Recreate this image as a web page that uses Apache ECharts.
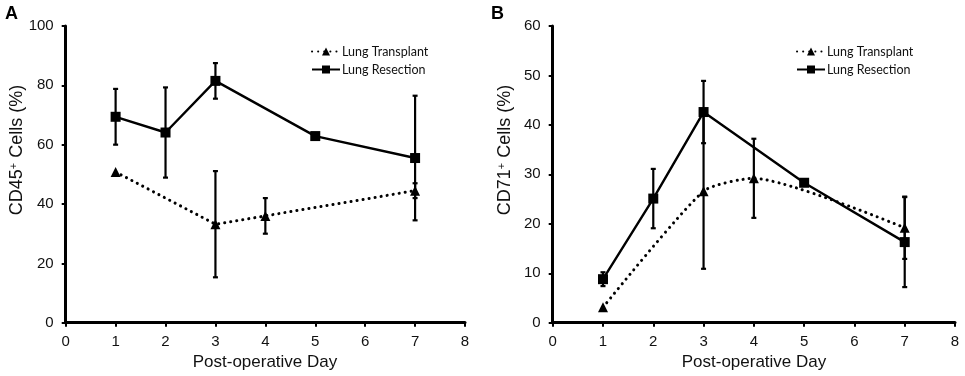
<!DOCTYPE html>
<html>
<head>
<meta charset="utf-8">
<script src="https://cdn.jsdelivr.net/npm/echarts@6/dist/echarts.min.js"></script>
<style>
  html, body { margin: 0; padding: 0; background: #fff; }
  #chart { width: 965px; height: 376px; }
</style>
</head>
<body>
<div id="chart"></div>
<script>
// post-operative days (null = no measurement that day)
const days = [1, 2, 3, 4, 5, 7];

// panel A: CD45+ cells (%)
const transA = [50.8, null, 33.2, 36.0, null, 44.5];
const transAErr = [0, null, 17.9, 6.0, null, 2.5];
const resA = [69.4, 64.1, 81.5, null, 62.9, 55.5];
const resAErr = [9.4, 15.2, 6.0, null, 0, 21.0];

// panel B: CD71+ cells (%)
const transB = [3.1, null, 26.6, 29.2, null, 19.2];
const transBErr = [0, null, 15.7, 8.0, null, 6.3];
const resB = [8.8, 25.1, 42.6, null, 28.3, 16.3];
const resBErr = [1.4, 6.0, 6.3, null, 0, 9.1];

const xTicks = [0, 1, 2, 3, 4, 5, 6, 7, 8];

const pairs = (vals) => days.map((d, i) => [d, vals[i]]).filter((p) => p[1] != null);
const bars = (vals, errs) =>
  days
    .map((d, i) => [d, vals[i], errs[i]])
    .filter((p) => p[1] != null && p[2] > 0)
    .map((p) => [p[0], p[1] - p[2], p[1] + p[2]]);

const labelFont = { color: '#111', fontSize: 15, fontFamily: 'Liberation Sans, Arial' };

const errorBar = (name, data, idx) => ({
  name,
  type: 'custom',
  xAxisIndex: idx,
  yAxisIndex: idx,
  data,
  z: 1,
  renderItem: (params, api) => {
    const lo = api.coord([api.value(0), api.value(1)]);
    const hi = api.coord([api.value(0), api.value(2)]);
    const w = 2.5;
    const style = { stroke: '#000', lineWidth: 2.2 };
    return {
      type: 'group',
      children: [
        { type: 'line', shape: { x1: lo[0], y1: lo[1], x2: hi[0], y2: hi[1] }, style },
        { type: 'line', shape: { x1: lo[0] - w, y1: lo[1], x2: lo[0] + w, y2: lo[1] }, style },
        { type: 'line', shape: { x1: hi[0] - w, y1: hi[1], x2: hi[0] + w, y2: hi[1] }, style },
      ],
    };
  },
});

const transLine = (data, idx, smooth) => ({
  name: 'Lung Transplant',
  type: 'line',
  xAxisIndex: idx,
  yAxisIndex: idx,
  data,
  smooth,
  symbol: 'triangle',
  symbolSize: 10,
  itemStyle: { color: '#000' },
  lineStyle: { color: '#000', width: 3, type: [0.1, 6], cap: 'round' },
  z: 2,
});

const resLine = (data, idx) => ({
  name: 'Lung Resection',
  type: 'line',
  xAxisIndex: idx,
  yAxisIndex: idx,
  data,
  symbol: 'rect',
  symbolSize: 10,
  itemStyle: { color: '#000' },
  lineStyle: { color: '#000', width: 2.4 },
  z: 3,
});

const xAxisOf = (idx) => ({
  type: 'value',
  gridIndex: idx,
  min: 0,
  max: 8,
  interval: 1,
  splitLine: { show: false },
  axisLine: { lineStyle: { color: '#000', width: 3 } },
  axisTick: { show: true, length: 4, lineStyle: { color: '#000', width: 2 } },
  axisLabel: { ...labelFont, margin: 12, formatter: (v) => (xTicks.includes(v) ? String(v) : '') },
});

const yAxisOf = (idx, max, interval) => ({
  type: 'value',
  gridIndex: idx,
  min: 0,
  max,
  interval,
  splitLine: { show: false },
  axisLine: { show: true, lineStyle: { color: '#000', width: 3 } },
  axisTick: { show: true, length: 4, lineStyle: { color: '#000', width: 2 } },
  axisLabel: { ...labelFont, margin: 12 },
});

const legendOf = (left) => ({
  orient: 'vertical',
  left,
  top: 40,
  itemWidth: 28,
  itemHeight: 10,
  itemGap: 5,
  data: ['Lung Transplant', 'Lung Resection'],
  textStyle: { color: '#111', fontSize: 12.5, fontFamily: 'Lato', padding: [0, 0, 0, -3] },
});

const titleText = (x, y, text) => ({
  type: 'text',
  left: x,
  top: y,
  style: { text, fill: '#000', font: 'bold 18px Liberation Sans, Arial' },
});

const yTitle = (x, y, num) => ({
  type: 'text',
  x,
  y,
  rotation: Math.PI / 2,
  style: {
    text: 'CD' + num + '{sup|+} Cells (%)',
    fill: '#111',
    font: '18px Liberation Sans, Arial',
    align: 'center',
    verticalAlign: 'middle',
    rich: { sup: { fontSize: 11, verticalAlign: 'top', padding: [0, 0, 6, 0], fill: '#111' } },
  },
});

const xTitle = (x) => ({
  type: 'text',
  x,
  y: 362,
  style: {
    text: 'Post-operative Day',
    fill: '#111',
    font: '17px Liberation Sans, Arial',
    align: 'center',
    verticalAlign: 'middle',
  },
});

const chart = echarts.init(document.getElementById('chart'), null, { renderer: 'canvas' });

chart.setOption({
  animation: false,
  backgroundColor: '#fff',
  grid: [
    { left: 65.7, top: 26, width: 399.3, height: 296.7 },
    { left: 552.7, top: 26, width: 402.3, height: 296.7 },
  ],
  xAxis: [xAxisOf(0), xAxisOf(1)],
  yAxis: [yAxisOf(0, 100, 20), yAxisOf(1, 60, 10)],
  legend: [legendOf(306), legendOf(791)],
  graphic: [
    titleText(5, 5, 'A'),
    titleText(491, 5, 'B'),
    yTitle(17, 150, '45'),
    yTitle(505, 150, '71'),
    xTitle(265),
    xTitle(754),
  ],
  series: [
    errorBar('errTransA', bars(transA, transAErr), 0),
    errorBar('errResA', bars(resA, resAErr), 0),
    transLine(pairs(transA), 0, false),
    resLine(pairs(resA), 0),
    errorBar('errTransB', bars(transB, transBErr), 1),
    errorBar('errResB', bars(resB, resBErr), 1),
    transLine(pairs(transB), 1, 0.2),
    resLine(pairs(resB), 1),
  ],
});
</script>
</body>
</html>
